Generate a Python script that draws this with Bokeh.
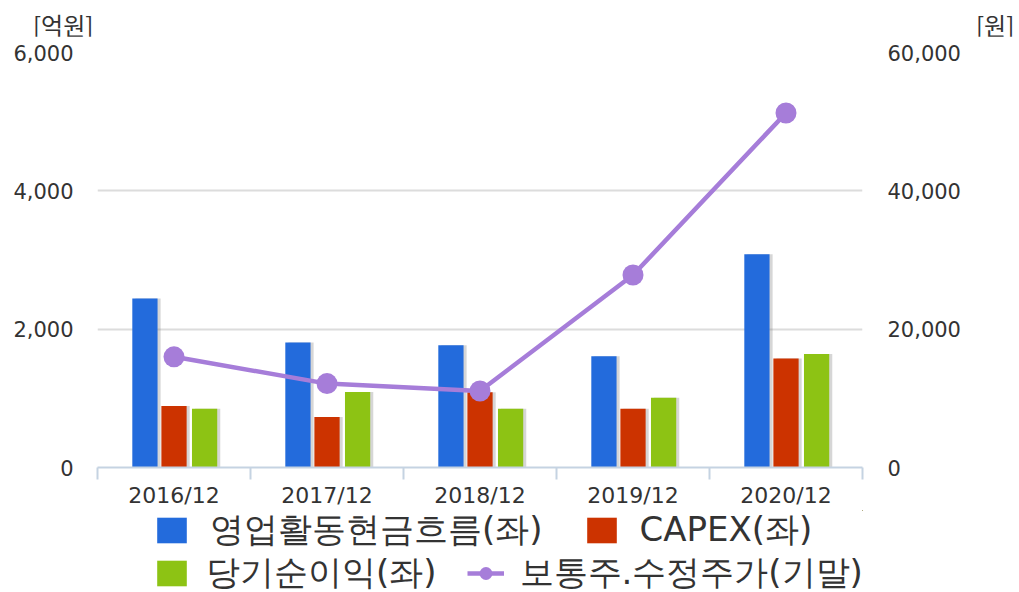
from bokeh.plotting import figure
from bokeh.layouts import column
from bokeh.models import (Range1d, LinearAxis, FixedTicker, NumeralTickFormatter,
                          Legend, LegendItem, ColumnDataSource, Div)
from bokeh.transform import dodge
from bokeh.embed import file_html
from bokeh.resources import INLINE

# ---------------- data ----------------
categories = ["2016/12", "2017/12", "2018/12", "2019/12", "2020/12"]
operating_cf = [2445, 1807, 1768, 1609, 3083]      # 영업활동현금흐름 (억원)
capex = [888, 729, 1087, 851, 1575]                # CAPEX (억원)
net_income = [851, 1091, 851, 1010, 1642]          # 당기순이익 (억원)
adj_price = [16000, 12130, 11060, 27830, 51260]    # 보통주 수정주가 (원)

left_ticks = [0, 2000, 4000, 6000]
right_ticks = [0, 20000, 40000, 60000]

series_names = ["영업활동현금흐름(좌)", "CAPEX(좌)", "당기순이익(좌)", "보통주.수정주가(기말)"]
unit_left = "[억원]"
unit_right = "[원]"

BLUE = "#236bdc"
RED = "#cc3300"
GREEN = "#8dc314"
PURPLE = "#a67dd9"
TXT = "#333333"
AXIS = "#c5d3e2"
GRID = "#dcdcdc"
W = 1019
BL, BR = 97, 157   # frame borders (shared by all figures in the column)

idx = list(range(len(categories)))
src = ColumnDataSource(dict(x=idx, ocf=operating_cf, capex=capex,
                            ni=net_income, price=adj_price))

# ---------------- top strip with unit labels ----------------
span_css = "position:absolute;top:13px;line-height:24px;white-space:nowrap;"
top = Div(text=(
    '<div style="position:relative;width:%dpx;height:36px;'
    "font-family:'Noto Sans CJK KR',sans-serif;font-size:24px;color:%s;\">"
    '<span style="%sleft:33px;">%s</span>'
    '<span style="%sleft:976px;">%s</span></div>'
) % (W, TXT, span_css, unit_left, span_css, unit_right),
    width=W, height=36, margin=0)

# ---------------- main chart ----------------
p = figure(width=W, height=474,
           x_range=Range1d(-0.5, len(categories) - 0.5),
           y_range=Range1d(0, 6000),
           output_backend="svg", toolbar_location=None,
           min_border_left=BL, min_border_right=BR,
           min_border_top=16, min_border_bottom=43)
p.extra_y_ranges = {"price": Range1d(0, 60000)}
p.outline_line_color = None

p.xgrid.visible = False
p.ygrid.ticker = FixedTicker(ticks=left_ticks[1:])
p.ygrid.grid_line_color = GRID
p.ygrid.grid_line_width = 2

xa = p.xaxis[0]
xa.ticker = FixedTicker(ticks=idx, minor_ticks=[i - 0.5 for i in range(len(categories) + 1)])
xa.major_label_overrides = {i: c for i, c in enumerate(categories)}
xa.major_tick_out = 0
xa.major_tick_in = 0
xa.minor_tick_out = 12
xa.minor_tick_in = 0
xa.minor_tick_line_color = AXIS
xa.minor_tick_line_width = 2
xa.axis_line_color = AXIS
xa.axis_line_width = 2
xa.major_label_standoff = 3
xa.major_label_text_font = "DejaVu Sans"
xa.major_label_text_font_size = "22px"
xa.major_label_text_color = TXT

ya = p.yaxis[0]
ya.ticker = FixedTicker(ticks=left_ticks)
ya.formatter = NumeralTickFormatter(format="0,0")
ya.axis_line_color = None
ya.major_tick_line_color = None
ya.minor_tick_line_color = None
ya.major_tick_out = 0
ya.major_tick_in = 0
ya.major_label_standoff = 24
ya.major_label_text_font = "DejaVu Sans"
ya.major_label_text_font_size = "21px"
ya.major_label_text_color = TXT

ra = LinearAxis(y_range_name="price", ticker=FixedTicker(ticks=right_ticks),
                formatter=NumeralTickFormatter(format="0,0"))
ra.axis_line_color = None
ra.major_tick_line_color = None
ra.minor_tick_line_color = None
ra.major_tick_out = 0
ra.major_tick_in = 0
ra.major_label_standoff = 25
ra.major_label_text_font = "DejaVu Sans"
ra.major_label_text_font_size = "21px"
ra.major_label_text_color = TXT
p.add_layout(ra, "right")

BW = 0.165
offs = {"ocf": -0.19, "capex": 0.0, "ni": 0.2}
for col in ["ocf", "capex", "ni"]:
    p.vbar(x=dodge("x", offs[col] + 0.02), top=col, width=BW, source=src,
           fill_color="#777777", fill_alpha=0.3, line_color=None)
p.vbar(x=dodge("x", offs["ocf"]), top="ocf", width=BW, source=src,
       fill_color=BLUE, line_color=None)
p.vbar(x=dodge("x", offs["capex"]), top="capex", width=BW, source=src,
       fill_color=RED, line_color=None)
p.vbar(x=dodge("x", offs["ni"]), top="ni", width=BW, source=src,
       fill_color=GREEN, line_color=None)

p.line("x", "price", source=src, y_range_name="price",
       line_color=PURPLE, line_width=4.5)
p.scatter("x", "price", source=src, y_range_name="price",
          size=21, fill_color=PURPLE, line_color=None)

# ---------------- legend strip ----------------
# Same series drawn again, but the ranges keep these marks far out of view:
# only their legend glyphs are visible.
lf = figure(width=W, height=82, x_range=Range1d(-30, -20), y_range=Range1d(-30, -20),
            output_backend="svg", toolbar_location=None,
            x_axis_location=None, y_axis_location=None,
            min_border_left=BL, min_border_right=BR, min_border_top=0, min_border_bottom=0)
lf.outline_line_color = None
lf.grid.visible = False
g_ocf = lf.vbar(x="x", top="ocf", width=0.1, source=src, fill_color=BLUE, line_color=None)
g_capex = lf.vbar(x="x", top="capex", width=0.1, source=src, fill_color=RED, line_color=None)
g_ni = lf.vbar(x="x", top="ni", width=0.1, source=src, fill_color=GREEN, line_color=None)
g_line = lf.line(x="x", y="price", source=src, line_color=PURPLE, line_width=4.5)
g_pts = lf.scatter(x="x", y="price", source=src, size=20, fill_color=PURPLE, line_color=None)


def make_legend(items, loc, spacing, standoff):
    lg = Legend(items=items, orientation="horizontal", location=loc)
    lg.label_text_font = "DejaVu Sans"
    lg.label_text_font_size = "34px"
    lg.label_text_color = TXT
    lg.glyph_width = 37
    lg.glyph_height = 32
    lg.label_height = 32
    lg.label_standoff = standoff
    lg.spacing = spacing
    lg.padding = 0
    lg.margin = 0
    lg.border_line_color = None
    lg.background_fill_alpha = 0
    return lg


leg1 = make_legend([LegendItem(label=series_names[0], renderers=[g_ocf]),
                    LegendItem(label=series_names[1], renderers=[g_capex])], (56, 39), 40, 20)
leg2 = make_legend([LegendItem(label=series_names[2], renderers=[g_ni]),
                    LegendItem(label=series_names[3], renderers=[g_line, g_pts])], (56, -4), 30, 16)
lf.add_layout(leg1, "center")
lf.add_layout(leg2, "center")

layout = column(top, p, lf, spacing=0)
open("out.html", "w").write(file_html(layout, INLINE))
